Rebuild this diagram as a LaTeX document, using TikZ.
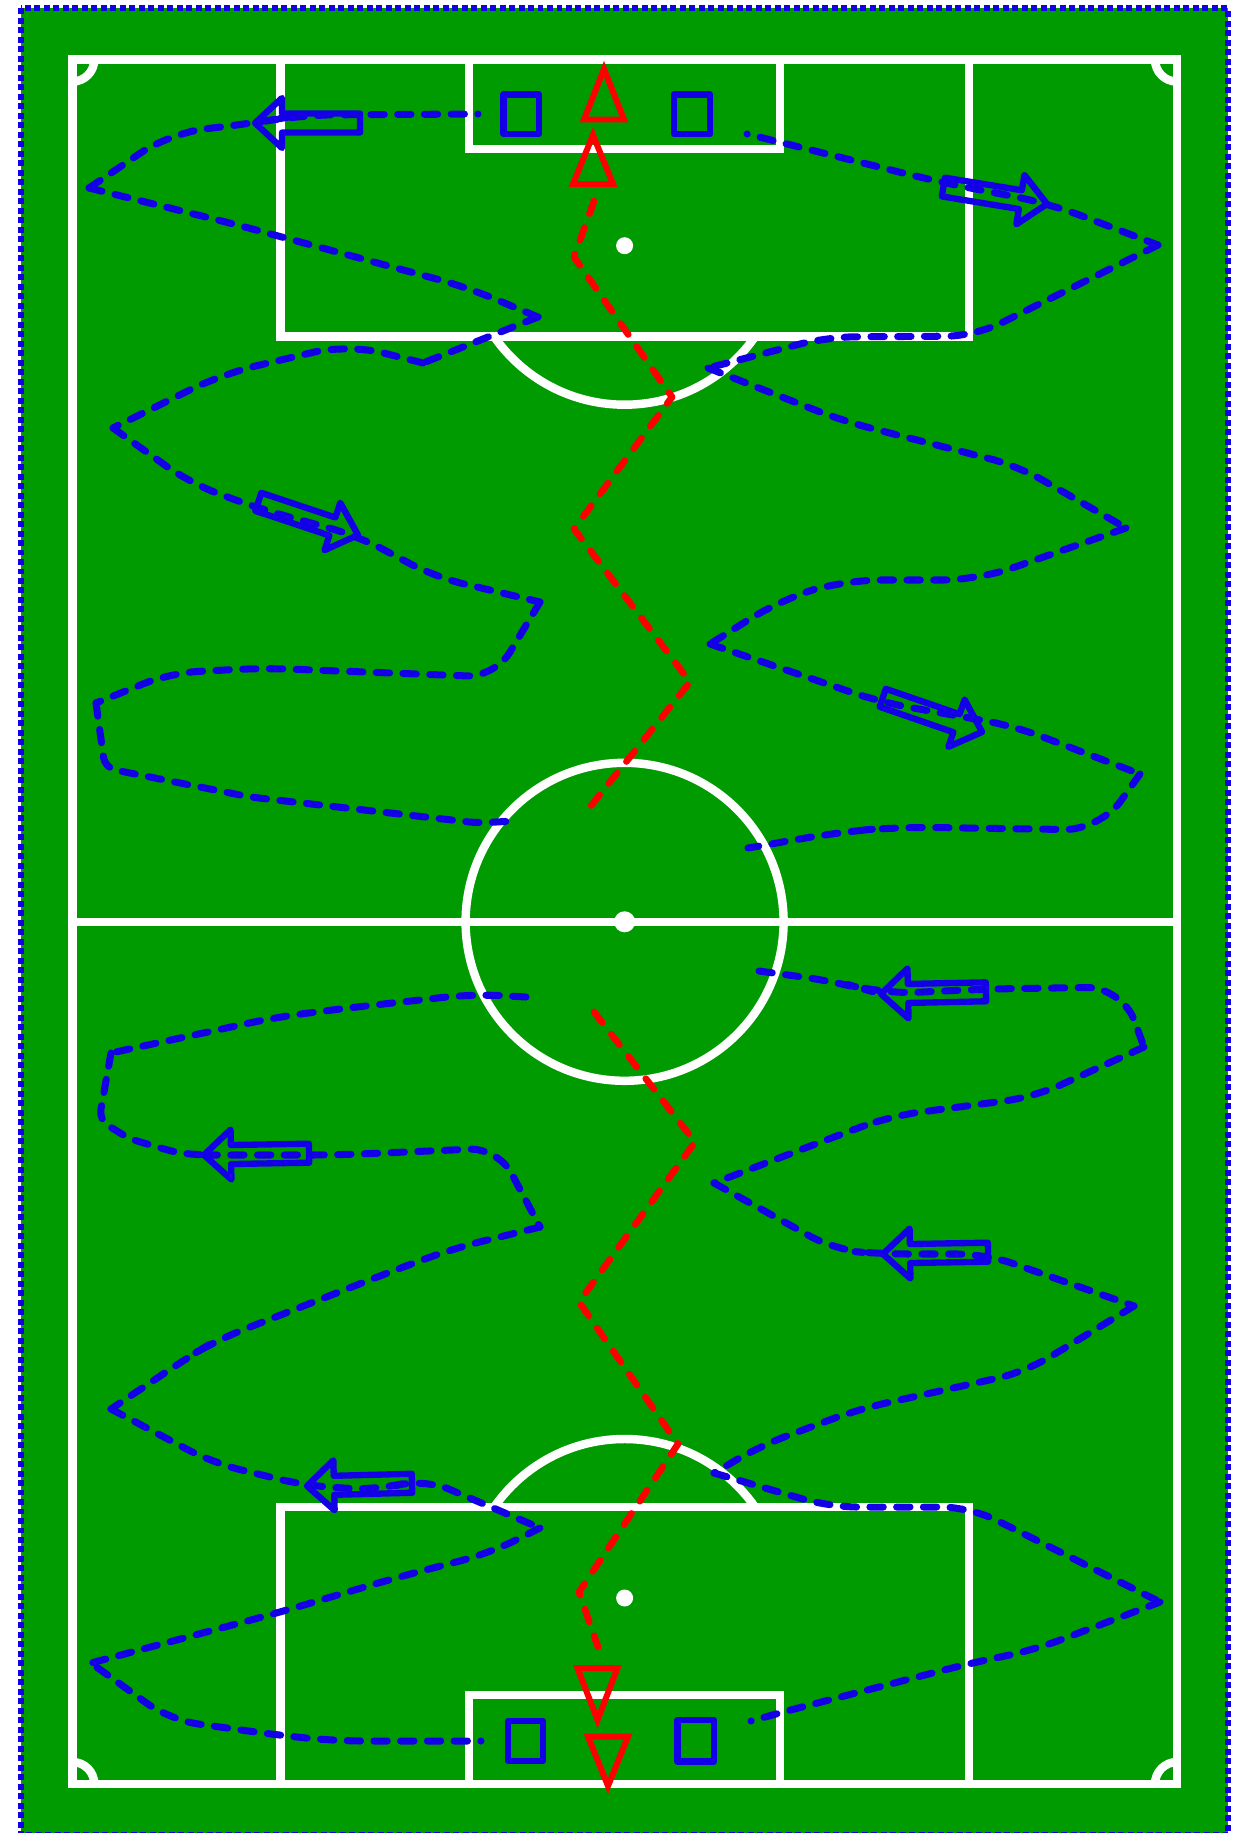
\documentclass[tikz,border=0pt]{standalone}
\definecolor{pitchgreen}{RGB}{0,155,0}
\definecolor{markblue}{RGB}{20,0,230}
\tikzset{
  fieldline/.style={white, line width=2.4pt},
  run/.style={markblue, line width=2pt, line cap=round, line join=round, dash pattern=on 3.8pt off 3.8pt, rounded corners=8pt},
  firstdot/.style={dash phase=3.75pt},
  pass/.style={red, line width=1.9pt, line cap=round, line join=round, dash pattern=on 3.8pt off 4.2pt},
  keeper/.style={markblue, line width=1.8pt, line join=round},
  cone/.style={red, line width=1.7pt},
  arrowline/.style={markblue, line width=1.8pt, line join=round},
}
% hollow arrow: tip, angle
\newcommand{\runarrow}[2]{%
  \draw[arrowline, shift={#1}, rotate=#2]
    (0,0) -- (-27,-25) -- (-27,-9.5) -- (-105,-9.5) -- (-105,9.5) -- (-27,9.5) -- (-27,25) -- cycle;}
\begin{document}
\begin{tikzpicture}[x=0.01cm, y=-0.01cm]
  \useasboundingbox (0,0) rectangle (1245,1833);
  \fill[white] (0,0) rectangle (1245,1833);
  % grass and border
  \draw[markblue, line width=1.7pt, dash pattern=on 1.7pt off 1pt, fill=pitchgreen]
    (20.7,8.3) rectangle (1227.6,1835.3);
  % pitch markings
  \draw[fieldline] (72.3,59.6) rectangle (1177,1784);
  \draw[fieldline] (72.3,921.8) -- (1177,921.8);
  \draw[fieldline] (624.6,921.8) circle (159);
  \draw[fieldline] (280.3,59.6) rectangle (969,336.7);
  \draw[fieldline] (469,59.6) rectangle (780,149);
  \draw[fieldline] (280.3,1784) rectangle (969,1507);
  \draw[fieldline] (469,1784) rectangle (780,1695);
  \begin{scope}
    \clip (0,336.7) rectangle (1245,600);
    \draw[fieldline] (624.6,245.7) circle (159);
  \end{scope}
  \begin{scope}
    \clip (0,1250) rectangle (1245,1507);
    \draw[fieldline] (624.6,1598) circle (159);
  \end{scope}
  \begin{scope}
    \clip (72.3,59.6) rectangle (1177,1784);
    \foreach \cx/\cy in {72.3/59.6, 1177/59.6, 72.3/1784, 1177/1784}
      \draw[fieldline] (\cx,\cy) circle (22);
  \end{scope}
  \fill[white] (624.6,921.8) circle (10.5);
  \foreach \sy in {245.7, 1598}
    \fill[white] (624.6,\sy) circle (8.5);

  % top left run
  \draw[run, firstdot, rounded corners=10pt] (478,114) -- (300,115) -- (255,123) -- (170,133) -- (89,188);
  \draw[run] (89,188) -- (234,224) -- (466,287) -- (538,317);
  \draw[run] (538,317) -- (423,363);
  \draw[run, rounded corners=10pt] (423,363) -- (348,344) -- (222,374) -- (113,428);
  \draw[run] (113,428) -- (190,483) -- (257,508) -- (358,536) -- (435,577) -- (540,602);
  \draw[run] (540,602) -- (495,677) -- (261,668) -- (170,673) -- (96,703);
  \draw[run, rounded corners=3pt] (96,703) -- (105,768) -- (250,797) -- (478,823) -- (514,821);
  \runarrow{(255,123)}{180}
  \runarrow{(358,535)}{-18.4}

  % top right run
  \draw[run, firstdot, rounded corners=10pt] (747,134) -- (783,143) -- (939,182) -- (1048,203) -- (1158,245);
  \draw[run] (1158,245) -- (975,336) -- (827,337) -- (708,368);
  \draw[run] (708,368) -- (843,421) -- (1018,466) -- (1126,528);
  \draw[run, rounded corners=10pt] (1126,528) -- (978,580) -- (845,580) -- (780,600) -- (710,644);
  \draw[run] (710,644) -- (880,702) -- (1014,726) -- (1140,774);
  \draw[run, rounded corners=10pt] (1140,774) -- (1100,830) -- (899,827) -- (840,832) -- (748,848);
  \runarrow{(1047,204)}{-9.3}
  \runarrow{(982,732)}{-19}

  % bottom left run
  \draw[run] (526,997) -- (474,994) -- (356,1007) -- (277,1017) -- (111,1053);
  \draw[run, rounded corners=3pt] (111,1053) -- (99,1120) -- (130,1139) -- (178,1153) -- (204,1155);
  \draw[run] (204,1155) -- (336,1155) -- (498,1148) -- (540,1227);
  \draw[run] (540,1227) -- (455,1248) -- (395,1270) -- (217,1340) -- (190,1356) -- (111,1409);
  \draw[run] (111,1409) -- (213,1463) -- (307,1486) -- (380,1490) -- (423,1478) -- (540,1528);
  \draw[run] (540,1528) -- (490,1553) -- (395,1578) -- (277,1613) -- (91,1663);
  \draw[run, firstdot] (481,1741) -- (336,1741) -- (277,1735) -- (170,1720) -- (91,1663);
  \runarrow{(204,1155)}{181}
  \runarrow{(307,1486)}{181.5}

  % bottom right run
  \draw[run, rounded corners=10pt] (759,971) -- (839,982) -- (881,994) -- (985,989) -- (1122,987) -- (1144,1047);
  \draw[run] (1144,1047) -- (1034,1097) -- (891,1116) -- (839,1135) -- (714,1183);
  \draw[run] (714,1183) -- (835,1250) -- (883,1254) -- (986,1254) -- (1134,1306);
  \draw[run] (1134,1306) -- (1025,1372) -- (859,1409) -- (760,1446) -- (714,1473);
  \draw[run] (714,1473) -- (830,1507) -- (970,1507) -- (1160,1602);
  \draw[run, firstdot] (751,1721) -- (779,1713) -- (971,1663) -- (1034,1650) -- (1160,1602);
  \runarrow{(881,994)}{181.2}
  \runarrow{(883,1254)}{181}

  % ball
  \draw[pass] (594,201) -- (574,257) -- (672,397) -- (574,529) -- (690,682) -- (590,807);
  \draw[pass] (594,1012) -- (695,1142) -- (579,1302) -- (678,1444) -- (579,1592) -- (598,1647);

  % cones
  \draw[cone] (604,69) -- (584,119.5) -- (624,119.5) -- cycle;
  \draw[cone] (593,135) -- (573,184) -- (613,184) -- cycle;
  \draw[cone] (597.5,1720) -- (577.5,1668) -- (617.5,1668) -- cycle;
  \draw[cone] (608,1786) -- (588,1736.5) -- (628,1736.5) -- cycle;

  % keepers
  \draw[keeper] (503.5,94.4) rectangle (538.7,134);
  \draw[keeper] (673.8,94.4) rectangle (710,134);
  \draw[keeper] (508,1721) rectangle (543,1761);
  \draw[keeper] (677.4,1720) rectangle (714,1761.5);
\end{tikzpicture}
\end{document}
